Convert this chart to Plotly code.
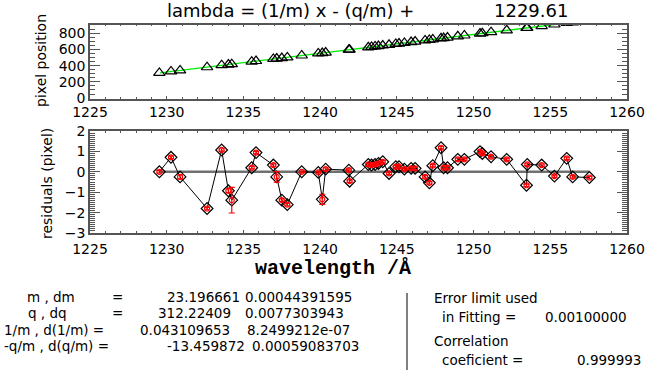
import plotly.graph_objects as go

# ---------------- data ----------------
wavelength = [1229.52, 1230.28, 1230.87, 1232.63, 1233.58, 1234.02, 1234.24, 1235.54,
              1235.82, 1236.95, 1237.17, 1237.50, 1237.86, 1238.80, 1239.88, 1240.14,
              1240.36, 1241.87, 1241.92, 1243.14, 1243.35, 1243.58, 1243.80, 1244.08,
              1244.49, 1244.93, 1245.14, 1245.49, 1245.93, 1246.19, 1246.84, 1247.12,
              1247.34, 1247.88, 1248.05, 1248.30, 1248.97, 1249.40, 1250.42, 1250.57,
              1251.14, 1252.16, 1253.45, 1253.50, 1254.44, 1255.27, 1256.07, 1256.46,
              1257.55]
pixel_pos = [310.1, 328.5, 341.5, 380.5, 405.4, 413.6, 418.2, 449.8,
             457.2, 482.5, 487.6, 493.8, 502.0, 525.4, 550.5, 555.1,
             561.6, 596.6, 597.3, 626.4, 631.3, 636.6, 641.8, 648.4,
             657.4, 667.8, 672.7, 680.7, 691.0, 697.0, 711.7, 717.9,
             723.8, 737.2, 740.2, 746.0, 761.9, 771.9, 795.9, 799.3,
             812.4, 835.9, 864.6, 866.8, 888.5, 907.2, 926.7, 934.8,
             960.0]
residual = [0.00, 0.71, -0.25, -1.80, 1.07, -0.93, -1.39, 0.20,
            0.94, 0.33, -0.25, -1.39, -1.61, 0.00, -0.03, -1.35,
            0.13, 0.08, -0.46, 0.36, 0.33, 0.36, 0.41, 0.49,
            -0.08, 0.25, 0.25, 0.13, 0.17, 0.17, -0.25, -0.54,
            0.30, 1.18, 0.20, 0.20, 0.61, 0.61, 0.99, 0.90,
            0.74, 0.61, -0.66, 0.36, 0.33, -0.21, 0.66, -0.25,
            -0.28]
res_err = [0.06, 0.06, 0.10, 0.06, 0.06, 0.10, 0.63, 0.06,
           0.06, 0.06, 0.26, 0.06, 0.06, 0.04, 0.04, 0.25,
           0.06, 0.06, 0.06, 0.06, 0.06, 0.06, 0.06, 0.06,
           0.06, 0.06, 0.06, 0.06, 0.06, 0.06, 0.06, 0.06,
           0.06, 0.06, 0.06, 0.06, 0.06, 0.06, 0.06, 0.06,
           0.06, 0.06, 0.06, 0.06, 0.06, 0.06, 0.06, 0.06,
           0.06]
fit_wave = [1229.56, 1257.55]
fit_pixel = [311.2, 959.7]
zero_wave = [1229.52, 1257.55]
zero_res = [0.0, 0.0]

x_ticks = [1225, 1230, 1235, 1240, 1245, 1250, 1255, 1260]

W, H = 647, 372
FONT = "DejaVu Sans"
FRAME = "#555555"

fig = go.Figure()

# ---- top panel ----
fig.add_trace(go.Scatter(x=fit_wave, y=fit_pixel, mode="lines",
                         line=dict(color="#00ee00", width=1.3),
                         xaxis="x", yaxis="y", showlegend=False, hoverinfo="skip"))
fig.add_trace(go.Scatter(x=wavelength, y=pixel_pos, mode="markers",
                         marker=dict(symbol="triangle-up-open", size=10,
                                     color="black", line=dict(width=1.2, color="black")),
                         xaxis="x", yaxis="y", showlegend=False))

# ---- residual panel ----
fig.add_trace(go.Scatter(x=zero_wave, y=zero_res, mode="lines",
                         line=dict(color="#707070", width=2.5),
                         xaxis="x2", yaxis="y2", showlegend=False, hoverinfo="skip"))
fig.add_trace(go.Scatter(x=wavelength, y=residual, mode="lines+markers",
                         line=dict(color="black", width=1),
                         marker=dict(symbol="diamond-open", size=9, color="black",
                                     line=dict(width=1.2, color="black")),
                         xaxis="x2", yaxis="y2", showlegend=False))
fig.add_trace(go.Scatter(x=wavelength, y=residual, mode="markers",
                         marker=dict(symbol="circle-open", size=5, color="red",
                                     line=dict(width=1.2, color="red")),
                         error_y=dict(type="data", array=res_err, visible=True,
                                      color="red", thickness=1.2, width=3),
                         xaxis="x2", yaxis="y2", showlegend=False))

def xax(anchor, standoff):
    return dict(range=[1225, 1260], tickvals=x_ticks, ticks="inside", ticklen=3,
                tickcolor=FRAME, tickwidth=1, showline=True, linecolor=FRAME,
                linewidth=1.5, mirror="allticks", showgrid=False, zeroline=False,
                automargin=False, ticklabelstandoff=standoff,
                minor=dict(dtick=1, ticks="inside", ticklen=2, tickcolor=FRAME),
                tickfont=dict(family=FONT, size=14, color="black"),
                domain=[90 / W, 627 / W], anchor=anchor)

def yax(rng, vals, minor_dt, dom, anchor):
    return dict(range=rng, tickvals=vals, ticks="inside",
                ticklen=10, tickcolor=FRAME, showline=True, linecolor=FRAME,
                linewidth=1.5, mirror="allticks", showgrid=False, zeroline=False,
                automargin=False,
                minor=dict(dtick=minor_dt, ticks="inside", ticklen=5, tickcolor=FRAME),
                tickfont=dict(family=FONT, size=14, color="black"),
                domain=dom, anchor=anchor)

fig.update_layout(
    template="none",
    width=W, height=H, autosize=False,
    margin=dict(l=0, r=0, t=0, b=0, pad=0),
    paper_bgcolor="white", plot_bgcolor="white",
    showlegend=False,
    xaxis=xax("y", 0),
    xaxis2=xax("y2", 2),
    yaxis=yax([-5, 905], [0, 200, 400, 600, 800], 50,
              [1 - 98.5 / H, 1 - 24.7 / H], "x"),
    yaxis2=yax([-3, 2], [-3, -2, -1, 0, 1, 2], 0.1,
               [1 - 233 / H, 1 - 131 / H], "x2"),
)

def ann(text, xpx, ypx, size=13.5, xanchor="left", angle=0, family=FONT, bold=False):
    if bold:
        text = "<b>" + text + "</b>"
    fig.add_annotation(text=text, x=xpx / W, y=1 - ypx / H, xref="paper", yref="paper",
                       xanchor=xanchor, yanchor="middle", showarrow=False,
                       textangle=angle, font=dict(family=family, size=size, color="black"))

# title
ann("lambda = (1/m) x - (q/m) +", 290, 11, size=18, xanchor="center")
ann("1229.61", 531, 11, size=18, xanchor="center")
# axis titles
ann("pixel position", 41, 61, size=14, xanchor="center", angle=-90)
ann("residuals (pixel)", 47, 184, size=14, xanchor="center", angle=-90)
ann("wavelength /Å", 333, 268, size=20, xanchor="center", family="Liberation Mono", bold=True)

# bottom text block
ann("m , dm", 25, 297)
ann("=", 110, 297)
ann("23.196661", 165, 297)
ann("0.00044391595", 243, 297)
ann("q , dq", 26, 313)
ann("=", 110, 313)
ann("312.22409", 156, 313)
ann("0.0077303943", 243, 313)
ann("1/m , d(1/m) =", 2, 330)
ann("0.043109653", 138, 330)
ann("8.2499212e-07", 245, 330)
ann("-q/m , d(q/m) =", 2, 346)
ann("-13.459872", 165, 346)
ann("0.00059083703", 250, 346)

ann("Error limit used", 432, 298)
ann("in Fitting =", 440, 317)
ann("0.00100000", 543, 317)
ann("Correlation", 432, 341)
ann("coeficient =", 440, 360)
ann("0.999993", 575, 360)

fig.add_shape(type="line", xref="paper", yref="paper",
              x0=407 / W, x1=407 / W, y0=1 - 293 / H, y1=1 - 370 / H,
              line=dict(color="black", width=1))

fig.write_html("out.html")
